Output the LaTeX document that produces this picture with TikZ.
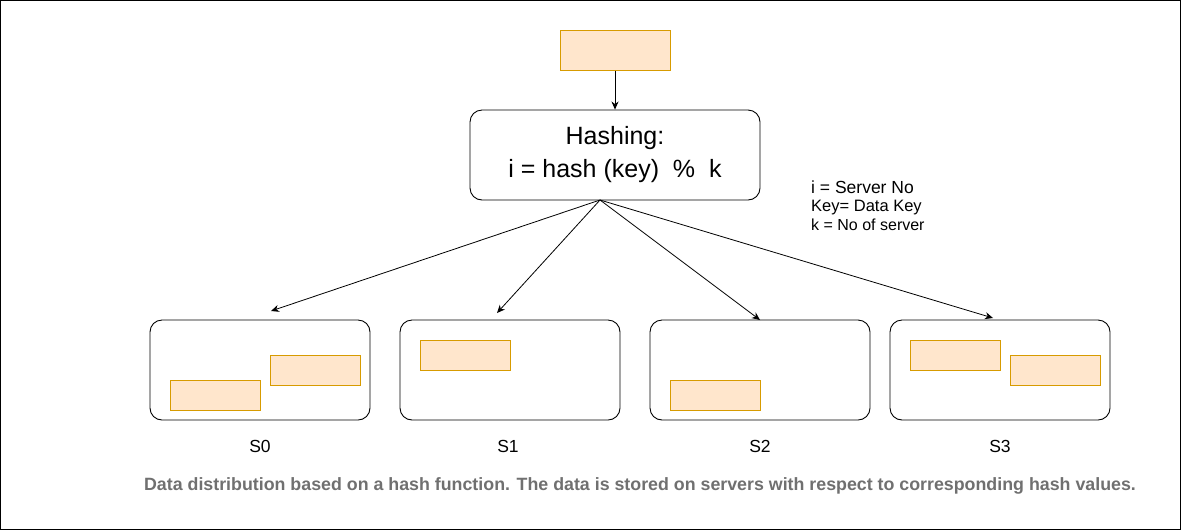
\documentclass[tikz,border=0pt]{standalone}
\usepackage{fontspec}
\setmainfont{Liberation Sans}
\usetikzlibrary{arrows.meta}
\definecolor{dfill}{HTML}{FFE6CC}
\definecolor{ddraw}{HTML}{D79B00}
\definecolor{capgray}{HTML}{707070}
\begin{document}
\begin{tikzpicture}[x=1pt,y=-1pt,
  databox/.style={draw=ddraw,fill=dfill,line width=1pt,minimum width=90pt,minimum height=30pt,inner sep=0pt},
  server/.style={draw=black,line width=0.9pt,rounded corners=12pt,minimum width=220pt,minimum height=100pt,inner sep=0pt},
  conn/.style={draw=black,line width=0.8pt,-{Stealth[length=8pt,width=7pt,inset=2.5pt]}},
  lbl/.style={font=\fontsize{17.5}{20}\selectfont,inner sep=0pt},
  legtext/.style={anchor=base west,inner sep=0pt}]
\draw[line width=1.2pt] (0.6,0.6) rectangle (1180.4,529.4);
\useasboundingbox (0,0) rectangle (1182,531);
% top data box
\node[databox,minimum width=110pt,minimum height=40pt] (top) at (615,50) {};
% hashing box
\node[draw=black,line width=0.9pt,rounded corners=12pt,minimum width=290pt,minimum height=90pt,inner sep=0pt,align=center,font=\fontsize{25}{33}\selectfont] (hash) at (615,155) {Hashing:\\i = hash (key)\ \ \%\ \ k};
\draw[conn] (top.south) -- (hash.north);
% legend
\node[legtext,font=\fontsize{17.5}{19}\selectfont] (leg1) at (811,193) {i = Server No};
\node[legtext,font=\fontsize{16.5}{19}\selectfont] (leg2) at (811,211) {Key= Data Key};
\node[legtext,font=\fontsize{16}{19}\selectfont] (leg3) at (811,230) {k = No of server};
% servers
\node[server] (s0) at (260,370) {};
\node[server] (s1) at (510,370) {};
\node[server] (s2) at (760,370) {};
\node[server] (s3) at (1000,370) {};
% data boxes in servers
\node[databox] (d0a) at (215,395) {};
\node[databox] (d0b) at (315,370) {};
\node[databox] (d1a) at (465,355.5) {};
\node[databox] (d2a) at (715,395) {};
\node[databox] (d3a) at (955,355) {};
\node[databox] (d3b) at (1055,370) {};
% labels
\node[lbl] (l0) at (260,446) {S0};
\node[lbl] (l1) at (508,446) {S1};
\node[lbl] (l2) at (760,446) {S2};
\node[lbl] (l3) at (1000,446) {S3};
% hash arrows
\coordinate (hs) at (600,200);
\coordinate (t0) at (271,311);
\coordinate (t1) at (497,313);
\coordinate (t2) at (760,320);
\coordinate (t3) at (993,318);
\draw[conn] (hs) -- (t0);
\draw[conn] (hs) -- (t1);
\draw[conn] (hs) -- (t2);
\draw[conn] (hs) -- (t3);
% caption
\node[text=capgray,font=\bfseries\fontsize{17.8}{20}\selectfont,inner sep=0pt] (cap) at (640,486) {Data distribution based on a hash function. The data is stored on servers with respect to corresponding hash values.};
\end{tikzpicture}
\end{document}
